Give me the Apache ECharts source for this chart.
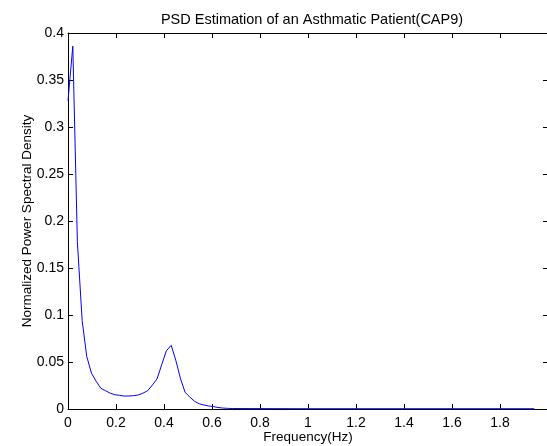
<!DOCTYPE html>
<html>
<head>
<meta charset="utf-8">
<script src="https://cdn.jsdelivr.net/npm/echarts@6/dist/echarts.min.js"></script>
<style>
  html, body { margin: 0; padding: 0; background: #fff; }
  #chart { width: 547px; height: 446px; }
</style>
</head>
<body>
<div id="chart"></div>
<script>
// frequency (Hz) and normalized PSD
const freq = [
  0, 0.02, 0.039, 0.059, 0.078, 0.098, 0.117, 0.137, 0.156, 0.176,
  0.195, 0.215, 0.234, 0.254, 0.273, 0.293, 0.312, 0.332, 0.352, 0.371,
  0.391, 0.41, 0.43, 0.449, 0.469, 0.488, 0.508, 0.527, 0.547, 0.566,
  0.586, 0.605, 0.625, 0.645, 0.664, 0.684,
  0.8, 1.0, 1.2, 1.4, 1.6, 1.8, 1.943
];
const psd = [
  0.328, 0.386, 0.178, 0.094, 0.056, 0.038, 0.0296, 0.022, 0.0195, 0.0168,
  0.0152, 0.0145, 0.0138, 0.0138, 0.0142, 0.0149, 0.0168, 0.0195, 0.0256, 0.032,
  0.0476, 0.062, 0.0677, 0.052, 0.032, 0.0177, 0.0126, 0.0083, 0.0055, 0.0043,
  0.0032, 0.0026, 0.0016, 0.001, 0.0007, 0.0005,
  0.0004, 0.0003, 0.0003, 0.0003, 0.0003, 0.0003, 0.0003
];

const titleText = "PSD Estimation of an Asthmatic Patient(CAP9)";
const xName = "Frequency(Hz)";
const yName = "Normalized Power Spectral Density";

const font = "'Liberation Sans', Arial, sans-serif";
const chart = echarts.init(document.getElementById("chart"));

const tickStyle = { inside: true, length: 5, lineStyle: { color: "#000", width: 1 } };
const lineStyle = { show: true, onZero: false, lineStyle: { color: "#000", width: 1 } };

chart.setOption({
  animation: false,
  backgroundColor: "#fff",
  title: {
    text: titleText,
    left: 307,
    top: 7,
    textAlign: "center",
    textStyle: { fontFamily: font, fontSize: 14.5, fontWeight: "normal", color: "#000" }
  },
  grid: { left: 68, right: -1, top: 33, bottom: 37, outerBoundsMode: "none" },
  xAxis: [
    {
      type: "value",
      min: 0,
      max: 2,
      interval: 0.2,
      position: "bottom",
      name: xName,
      nameLocation: "middle",
      nameGap: 21,
      nameMoveOverlap: false,
      nameTextStyle: { fontFamily: font, fontSize: 13.5, color: "#000" },
      axisLine: lineStyle,
      axisTick: tickStyle,
      splitLine: { show: false },
      axisLabel: {
        fontFamily: font, fontSize: 14, color: "#000", margin: 7,
        formatter: (v) => (v >= 2 ? "" : String(v))
      }
    },
    {
      type: "value",
      min: 0,
      max: 2,
      interval: 0.2,
      position: "top",
      axisLine: lineStyle,
      axisTick: tickStyle,
      splitLine: { show: false },
      axisLabel: { show: false }
    }
  ],
  yAxis: [
    {
      type: "value",
      min: 0,
      max: 0.4,
      interval: 0.05,
      position: "left",
      name: yName,
      nameLocation: "middle",
      nameGap: 34,
      nameMoveOverlap: false,
      nameTextStyle: { fontFamily: font, fontSize: 13.5, color: "#000" },
      axisLine: lineStyle,
      axisTick: tickStyle,
      splitLine: { show: false },
      axisLabel: { fontFamily: font, fontSize: 14, color: "#000", margin: 4 }
    },
    {
      type: "value",
      min: 0,
      max: 0.4,
      interval: 0.05,
      position: "right",
      axisLine: lineStyle,
      axisTick: tickStyle,
      splitLine: { show: false },
      axisLabel: { show: false }
    }
  ],
  series: [
    {
      type: "line",
      data: freq.map((f, i) => [f, psd[i]]),
      showSymbol: false,
      lineStyle: { color: "#0000ff", width: 1 }
    }
  ]
});
</script>
</body>
</html>
